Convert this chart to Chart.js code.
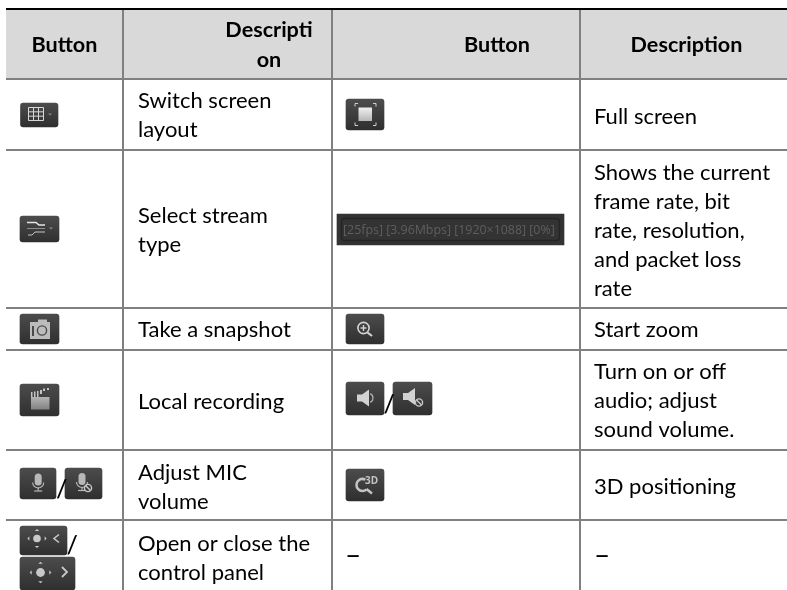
<!DOCTYPE html>
<html>
<head>
<meta charset="utf-8">
<script src="https://cdn.jsdelivr.net/npm/chart.js@4"></script>
<style>
html, body { margin: 0; padding: 0; background: #fff; }
#wrap { position: relative; width: 787px; height: 590px; overflow: hidden; }
</style>
</head>
<body>
<div id="wrap"><canvas id="myChart"></canvas></div>
<script>
// table content
const headerLabels = ['Button', 'Description', 'Button', 'Description'];
const leftDescriptions = [
    ['Switch screen', 'layout'],
    ['Select stream', 'type'],
    ['Take a snapshot'],
    ['Local recording'],
    ['Adjust MIC', 'volume'],
    ['Open or close the', 'control panel']
];
const rightDescriptions = [
    ['Full screen'],
    ['Shows the current', 'frame rate, bit', 'rate, resolution,', 'and packet loss', 'rate'],
    ['Start zoom'],
    ['Turn on or off', 'audio; adjust', 'sound volume.'],
    ['3D positioning'],
    ['–']
];
const statusText = '[25fps] [3.96Mbps] [1920×1088] [0%]';

// table geometry, the axes run in page pixels
const columnEdges = [6, 123, 332, 580, 787];
const rowEdges = [9, 79, 150, 308, 350, 450, 520, 590];
const leftBaselines = [107.5, 222.5, 336.5, 408.5, 479.5, 550.5];
const rightBaselines = [123.5, 180, 336.5, 378.5, 493.5, 565];

// button icons: name, left, right, top, bottom
const buttons = [
    ['grid', 20.5, 58, 103, 127],
    ['full', 346, 384, 99, 130],
    ['stream', 20, 59, 216, 242],
    ['status', 337, 564, 214, 245],
    ['camera', 20, 59, 314, 344],
    ['zoom', 346, 384, 314, 344],
    ['clapper', 20, 59, 384, 416],
    ['speaker', 346, 384, 382, 415],
    ['mute', 393, 432, 382, 415],
    ['mic', 20, 56, 468, 499],
    ['micoff', 65, 102, 468, 499],
    ['d3', 346, 384, 469, 501],
    ['ptzopen', 20, 67, 526, 555],
    ['ptzclose', 20, 75, 557, 590]
];

const bodyFont = '22px Lato';
const headFont = 'bold 21.6px Lato';
const dashFont = '28px Lato';
const slashFont = '500 25px Lato';

function buttonGradient(c, b) {
    if (b[0] === 'status') return '#333333';
    const g = c.chart.ctx.createLinearGradient(0, b[3], 0, b[4]);
    g.addColorStop(0, '#4c4c4c');
    g.addColorStop(1, '#2f2f2f');
    return g;
}

const datasets = [{
    data: [{ x: [columnEdges[0], columnEdges[4]], y: (rowEdges[0] + rowEdges[1]) / 2 }],
    barThickness: rowEdges[1] - rowEdges[0],
    backgroundColor: '#d9d9d9'
}].concat(buttons.map(b => ({
    data: [{ x: [b[1], b[2]], y: (b[3] + b[4]) / 2 }],
    barThickness: b[4] - b[3],
    borderRadius: b[0] === 'status' ? 0 : 3,
    borderSkipped: false,
    backgroundColor: c => buttonGradient(c, b)
})));

function line(g, x1, y1, x2, y2) {
    g.beginPath();
    g.moveTo(x1, y1);
    g.lineTo(x2, y2);
    g.stroke();
}

function caret(g, x, y) {
    g.fillStyle = '#8a8a8a';
    g.beginPath();
    g.moveTo(x - 2, y);
    g.lineTo(x + 2, y);
    g.lineTo(x, y + 2);
    g.fill();
}

function disc(g, x, y, r) {
    g.beginPath();
    g.arc(x, y, r, 0, Math.PI * 2);
    g.fill();
}

function ban(g, x, y) {
    g.strokeStyle = '#c8c8c8';
    g.lineWidth = 1.4;
    g.beginPath();
    g.arc(x, y, 3.6, 0, Math.PI * 2);
    g.stroke();
    line(g, x - 2.5, y - 2.5, x + 2.5, y + 2.5);
}

function cone(g, x, y) {
    g.fillStyle = '#d2d2d2';
    g.beginPath();
    g.moveTo(x, y - 3.5);
    g.lineTo(x + 5, y - 3.5);
    g.lineTo(x + 12, y - 8.5);
    g.lineTo(x + 12, y + 8.5);
    g.lineTo(x + 5, y + 3.5);
    g.lineTo(x, y + 3.5);
    g.fill();
}

function micShape(g, x, y) {
    g.fillStyle = '#b8b8b8';
    g.strokeStyle = '#b8b8b8';
    g.lineWidth = 1.2;
    g.beginPath();
    g.roundRect(x - 3.5, y - 8, 7, 12, 3.5);
    g.fill();
    g.beginPath();
    g.arc(x, y + 1, 5.5, 0, Math.PI);
    g.stroke();
    line(g, x, y + 6, x, y + 9);
    line(g, x - 4, y + 9.5, x + 4, y + 9.5);
}

function ptz(g, x, y, s) {
    g.fillStyle = '#c8c8c8';
    disc(g, x, y, 4 * s);
    const a = 8 * s;
    [[0, -1], [0, 1], [-1, 0], [1, 0]].forEach(d => {
        g.beginPath();
        g.moveTo(x + d[0] * (a + 2), y + d[1] * (a + 2));
        g.lineTo(x + d[0] * a + d[1] * 2.2, y + d[1] * a + d[0] * 2.2);
        g.lineTo(x + d[0] * a - d[1] * 2.2, y + d[1] * a - d[0] * 2.2);
        g.fill();
    });
}

function drawGlyph(g, name, x0, x1, y0, y1) {
    const cx = (x0 + x1) / 2, cy = (y0 + y1) / 2;
    g.save();
    if (name === 'grid') {
        g.strokeStyle = '#d8d8d8';
        g.lineWidth = 1;
        for (let i = 0; i < 4; i++) line(g, 28.5 + i * 5, 107.5, 28.5 + i * 5, 120.5);
        for (let i = 0; i < 4; i++) line(g, 28.5, 107.5 + i * 4.33, 43.5, 107.5 + i * 4.33);
        caret(g, 50, 113.5);
    } else if (name === 'full') {
        const f = g.createLinearGradient(0, cy - 7, 0, cy + 7);
        f.addColorStop(0, '#f0f0f0');
        f.addColorStop(1, '#b4b4b4');
        g.fillStyle = f;
        g.fillRect(cx - 6.5, cy - 7, 13.5, 13.5);
        g.strokeStyle = '#d0d0d0';
        g.lineWidth = 1;
        [[-10, -11, 1, 1], [11, -11, -1, 1], [-10, 11, 1, -1], [11, 11, -1, -1]].forEach(p => {
            line(g, cx + p[0], cy + p[1], cx + p[0] + 3 * p[2], cy + p[1]);
            line(g, cx + p[0], cy + p[1], cx + p[0], cy + p[1] + 3 * p[3]);
        });
    } else if (name === 'stream') {
        g.strokeStyle = '#e4e4e4';
        g.lineWidth = 1.6;
        g.beginPath();
        g.moveTo(27, 222.5);
        g.lineTo(36, 222.5);
        g.lineTo(39, 225);
        g.lineTo(45, 225);
        g.stroke();
        g.strokeStyle = '#8c8c8c';
        g.lineWidth = 1;
        line(g, 27, 228.5, 45, 228.5);
        g.strokeStyle = '#c4c4c4';
        g.beginPath();
        g.moveTo(28, 235);
        g.lineTo(32, 235);
        g.lineTo(35, 232);
        g.lineTo(45, 232);
        g.stroke();
        caret(g, 51, 227.5);
    } else if (name === 'status') {
        g.strokeStyle = '#242424';
        g.lineWidth = 1.4;
        g.beginPath();
        g.roundRect(x0 + 4.5, y0 + 4.5, x1 - x0 - 9, y1 - y0 - 9, 3);
        g.stroke();
        g.fillStyle = '#5f5f5f';
        g.font = '12.4px "Open Sans"';
        g.textBaseline = 'alphabetic';
        g.fillText(statusText, x0 + 6, y0 + 20);
    } else if (name === 'camera') {
        g.fillStyle = '#bcbcbc';
        g.fillRect(30, 322, 20, 17);
        g.fillRect(38, 319.5, 9, 3);
        g.fillStyle = '#4a4a4a';
        g.fillRect(32, 326, 2, 10);
        g.strokeStyle = '#4a4a4a';
        g.lineWidth = 1.4;
        g.beginPath();
        g.arc(42, 330.5, 4.6, 0, Math.PI * 2);
        g.stroke();
    } else if (name === 'zoom') {
        g.strokeStyle = '#d4d4d4';
        g.lineWidth = 1.6;
        g.beginPath();
        g.arc(363.5, 328, 5.6, 0, Math.PI * 2);
        g.stroke();
        g.lineWidth = 2.2;
        line(g, 367.5, 332.5, 372, 336);
        g.lineWidth = 1.4;
        line(g, 360.5, 328, 366.5, 328);
        line(g, 363.5, 325, 363.5, 331);
    } else if (name === 'clapper') {
        const f = g.createLinearGradient(0, 397, 0, 410);
        f.addColorStop(0, '#b4b4b4');
        f.addColorStop(1, '#808080');
        g.fillStyle = f;
        g.fillRect(31, 397, 18.5, 12.5);
        g.fillStyle = '#c4c4c4';
        g.fillRect(31, 392, 1.5, 5);
        g.fillRect(34, 391.5, 1.5, 5.5);
        g.fillRect(37, 391, 1.5, 6);
        g.fillRect(40, 390, 2, 4);
        g.fillRect(43, 388.5, 2, 2.5);
        g.fillRect(47, 388, 2, 2);
    } else if (name === 'speaker') {
        cone(g, 357, cy - 0.5);
        g.strokeStyle = '#b0b0b0';
        g.lineWidth = 1.4;
        g.beginPath();
        g.arc(368, cy - 0.5, 5, -1.1, 1.1);
        g.stroke();
    } else if (name === 'mute') {
        cone(g, 403, cy - 2);
        ban(g, 419, cy + 4);
    } else if (name === 'd3') {
        g.strokeStyle = '#c4c4c4';
        g.lineWidth = 2.5;
        g.beginPath();
        g.arc(362.5, 485, 6, 0.8, 5.2);
        g.stroke();
        line(g, 366.5, 489, 372, 493.5);
        g.fillStyle = '#c4c4c4';
        g.font = 'bold 10px "Open Sans"';
        g.fillText('3D', 365, 483.5);
    } else if (name === 'mic') {
        micShape(g, cx + 0.2, cy - 2);
    } else if (name === 'micoff') {
        micShape(g, cx - 1.5, cy - 2.5);
        ban(g, cx + 4.5, cy + 4.5);
    } else if (name === 'ptzopen') {
        ptz(g, 37, cy - 2, 0.95);
        g.strokeStyle = '#c8c8c8';
        g.lineWidth = 1.6;
        g.beginPath();
        g.moveTo(59, cy - 6);
        g.lineTo(54, cy - 2);
        g.lineTo(59, cy + 2);
        g.stroke();
    } else if (name === 'ptzclose') {
        ptz(g, 40.5, 572.5, 1.1);
        g.strokeStyle = '#c8c8c8';
        g.lineWidth = 1.8;
        g.beginPath();
        g.moveTo(62, 567);
        g.lineTo(67, 572);
        g.lineTo(62, 577);
        g.stroke();
    }
    g.restore();
}

function drawLines(g, sx, sy, lines, px, baseline) {
    lines.forEach((text, i) => {
        g.font = text === '–' ? dashFont : bodyFont;
        g.fillText(text, sx.getPixelForValue(px), sy.getPixelForValue(baseline + i * 29));
    });
}

const tablePlugin = {
    id: 'tablePlugin',
    afterDatasetsDraw(chart) {
        const g = chart.ctx, sx = chart.scales.x, sy = chart.scales.y;
        buttons.forEach(b => drawGlyph(g, b[0], sx.getPixelForValue(b[1]), sx.getPixelForValue(b[2]), sy.getPixelForValue(b[3]), sy.getPixelForValue(b[4])));

        g.save();
        g.fillStyle = '#000';
        g.textBaseline = 'alphabetic';
        g.font = headFont;
        g.textAlign = 'center';
        g.fillText(headerLabels[0], sx.getPixelForValue(64.5), sy.getPixelForValue(51.7));
        g.fillText('Descripti', sx.getPixelForValue(269), sy.getPixelForValue(36.7));
        g.fillText('on', sx.getPixelForValue(269), sy.getPixelForValue(67.3));
        g.fillText(headerLabels[2], sx.getPixelForValue(497), sy.getPixelForValue(51.7));
        g.fillText(headerLabels[3], sx.getPixelForValue(686.5), sy.getPixelForValue(51.7));

        g.textAlign = 'left';
        leftDescriptions.forEach((lines, i) => drawLines(g, sx, sy, lines, 138, leftBaselines[i]));
        rightDescriptions.forEach((lines, i) => drawLines(g, sx, sy, lines, 594, rightBaselines[i]));
        // dash in the button column of the last row and slashes between icons
        drawLines(g, sx, sy, ['–'], 345, 565);
        g.font = slashFont;
        g.fillText('/', sx.getPixelForValue(56), sy.getPixelForValue(498));
        g.fillText('/', sx.getPixelForValue(383.5), sy.getPixelForValue(413));
        g.fillText('/', sx.getPixelForValue(66.5), sy.getPixelForValue(554));
        g.restore();
    }
};

new Chart(document.getElementById('myChart'), {
    type: 'bar',
    data: { datasets: datasets },
    plugins: [tablePlugin],
    options: {
        indexAxis: 'y',
        responsive: true,
        maintainAspectRatio: false,
        animation: false,
        layout: { padding: { left: columnEdges[0], top: rowEdges[0] } },
        plugins: { legend: { display: false }, tooltip: { enabled: false } },
        datasets: { bar: { grouped: false } },
        scales: {
            x: {
                type: 'linear',
                offset: false,
                min: columnEdges[0],
                max: columnEdges[4],
                afterBuildTicks: s => { s.ticks = columnEdges.map(v => ({ value: v })); },
                ticks: { display: false },
                border: { display: false },
                grid: {
                    z: 1,
                    offset: false,
                    drawTicks: false,
                    lineWidth: 2,
                    color: c => (c.tick && (c.tick.value === columnEdges[0] || c.tick.value === columnEdges[4])) ? 'transparent' : '#808080'
                }
            },
            y: {
                type: 'linear',
                reverse: true,
                offset: false,
                min: rowEdges[0],
                max: rowEdges[7],
                afterBuildTicks: s => { s.ticks = rowEdges.map(v => ({ value: v })); },
                ticks: { display: false },
                border: { display: false },
                grid: {
                    z: 1,
                    offset: false,
                    drawTicks: false,
                    lineWidth: 2,
                    color: c => {
                        if (!c.tick) return '#808080';
                        if (c.tick.value === rowEdges[0]) return '#000000';
                        return c.tick.value === rowEdges[7] ? 'transparent' : '#808080';
                    }
                }
            }
        }
    }
});
</script>
</body>
</html>
